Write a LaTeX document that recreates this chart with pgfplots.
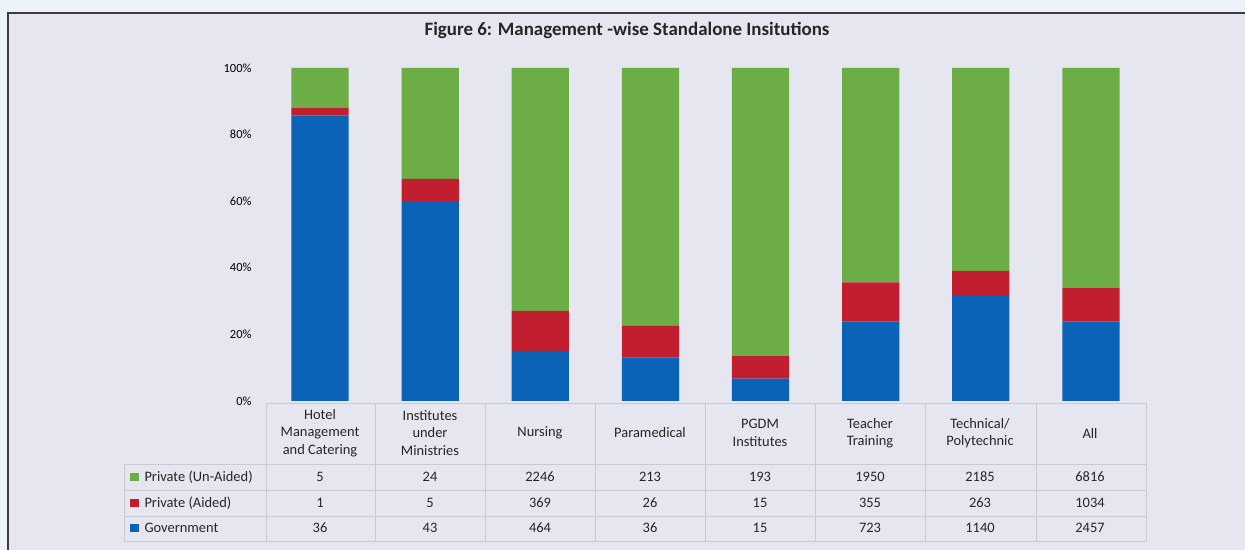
\documentclass[border=0pt]{standalone}
\usepackage{pgfplots}
\pgfplotsset{compat=1.18}
\usepackage{pgfplotstable}
\usepackage{fontspec}
\setmainfont{Carlito}
\definecolor{outerbg}{HTML}{EDF3FA}
\definecolor{panelbg}{HTML}{E5E6EF}
\definecolor{frame}{HTML}{3C3C3C}
\definecolor{gov}{HTML}{0A63B6}
\definecolor{aid}{HTML}{C11F30}
\definecolor{unaid}{HTML}{6DAD46}
\definecolor{grid}{HTML}{C8C9D2}
\pgfplotstableread{
cat gov aided unaided
0 36 1 5
1 43 5 24
2 464 369 2246
3 36 26 213
4 15 15 193
5 723 355 1950
6 1140 263 2185
7 2457 1034 6816
}\data
\begin{document}
\begin{tikzpicture}
\begin{scope}[x=1bp,y=1bp]
\useasboundingbox (0,0) rectangle (1245,550);
\fill[outerbg] (-5,-5) rectangle (1250,555);
\fill[panelbg] (8,-5) rectangle (1260,537);
\draw[frame,line width=1.6bp] (8,-10) -- (8,537) -- (1260,537);
\node[font=\fontsize{19}{22}\selectfont\bfseries, text=black!85] at (627,520) {Figure 6: Management -wise Standalone Insitutions};
\end{scope}
\begin{axis}[
  at={(265bp,149bp)}, anchor=south west,
  scale only axis, width=881bp, height=333bp,
  xmin=-0.5, xmax=7.5, ymin=0, ymax=100,
  ybar stacked, bar width=0.52,
  xtick=\empty,
  ytick={0,20,40,60,80,100},
  yticklabel={\pgfmathparse{int(\tick)}\pgfmathresult\%},
  yticklabel style={font=\fontsize{12.5}{14}\selectfont, xshift=-10bp},
  axis line style={draw=none}, tick style={draw=none},
  clip=false,
]
\addplot[fill=gov, draw=none] table[x=cat, y expr=\thisrow{gov}/(\thisrow{gov}+\thisrow{aided}+\thisrow{unaided})*100] {\data};
\addplot[fill=aid, draw=none] table[x=cat, y expr=\thisrow{aided}/(\thisrow{gov}+\thisrow{aided}+\thisrow{unaided})*100] {\data};
\addplot[fill=unaid, draw=none] table[x=cat, y expr=\thisrow{unaided}/(\thisrow{gov}+\thisrow{aided}+\thisrow{unaided})*100] {\data};
\end{axis}
\begin{scope}[x=1bp,y=1bp]
\begin{scope}[grid, line width=0.7bp]
\draw (266,147) -- (1146,147);
\draw (124,86) -- (1146,86);
\draw (124,60) -- (1146,60);
\draw (124,34) -- (1146,34);
\draw (124,9) -- (1146,9);
\draw (124,86) -- (124,9);
\foreach \x in {266,375,485,595,705,815,925,1036,1146} \draw (\x,147) -- (\x,9);
\end{scope}
\begin{scope}[every node/.style={font=\fontsize{14.5}{17.5}\selectfont, align=center, text=black!85}]
\node at (320,117) {Hotel\\Management\\and Catering};
\node at (430,117) {Institutes\\under\\Ministries};
\node at (540,117) {Nursing};
\node at (650,117) {Paramedical};
\node at (760,117) {PGDM\\Institutes};
\node at (870,117) {Teacher\\Training};
\node at (980,117) {Technical/\\Polytechnic};
\node at (1090,117) {All};
\foreach \v [count=\i from 0] in {5,24,2246,213,193,1950,2185,6816} \node at (320+110*\i,73) {\v};
\foreach \v [count=\i from 0] in {1,5,369,26,15,355,263,1034} \node at (320+110*\i,47) {\v};
\foreach \v [count=\i from 0] in {36,43,464,36,15,723,1140,2457} \node at (320+110*\i,22) {\v};
\fill[unaid] (130,69) rectangle (139,77);
\fill[aid] (130,43) rectangle (139,51);
\fill[gov] (130,18) rectangle (139,26);
\node[anchor=west] at (141,73) {Private (Un-Aided)};
\node[anchor=west] at (141,47) {Private (Aided)};
\node[anchor=west] at (141,22) {Government};
\end{scope}
\end{scope}
\end{tikzpicture}
\end{document}
